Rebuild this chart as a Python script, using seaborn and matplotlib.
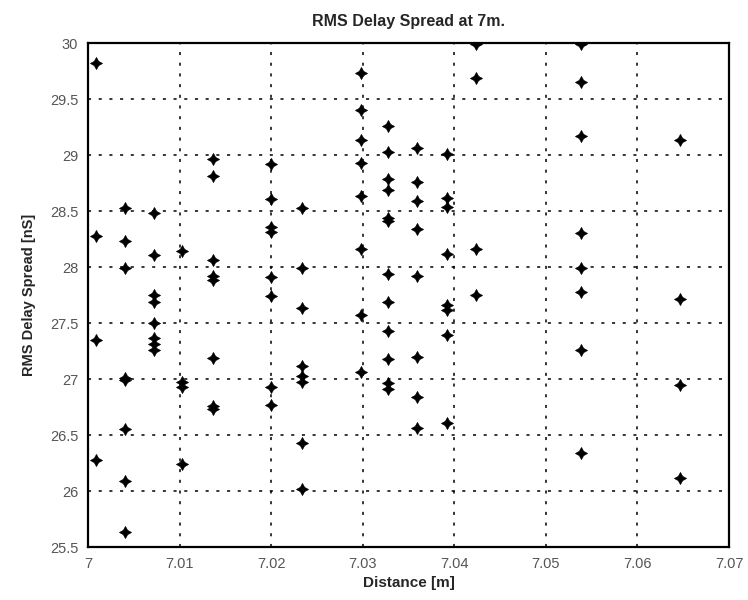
import numpy as np
import pandas as pd
import seaborn as sns
import matplotlib
matplotlib.use("Agg")
import matplotlib.pyplot as plt


# posiciones (m) de cada columna de medidas
distances = [7.0009, 7.0040, 7.0072, 7.0103, 7.0137, 7.0200, 7.0234,
             7.0298, 7.0328, 7.0359, 7.0392, 7.0424, 7.0538, 7.0646]

# RMS delay spread (nS) en cada columna
rms_c01 = [29.82, 28.28, 27.35, 26.28]
rms_c02 = [28.53, 28.23, 27.99, 27.01, 26.99, 26.55, 26.09, 25.63]
rms_c03 = [28.48, 28.11, 27.75, 27.69, 27.50, 27.37, 27.31, 27.26]
rms_c04 = [28.14, 26.97, 26.93, 26.24]
rms_c05 = [28.96, 28.81, 28.06, 27.92, 27.88, 27.19, 26.76, 26.73]
rms_c06 = [28.92, 28.61, 28.36, 28.31, 27.91, 27.74, 26.93, 26.77]
rms_c07 = [28.53, 27.99, 27.63, 27.12, 27.03, 26.97, 26.43, 26.02]
rms_c08 = [29.73, 29.40, 29.13, 28.93, 28.63, 28.16, 27.57, 27.06]
rms_c09 = [29.26, 29.03, 28.79, 28.69, 28.44, 28.41, 27.94, 27.69, 27.43, 27.18, 26.96, 26.91]
rms_c10 = [29.06, 28.76, 28.59, 28.34, 27.92, 27.20, 26.84, 26.56]
rms_c11 = [29.01, 28.62, 28.54, 28.12, 27.66, 27.62, 27.39, 26.61]
rms_c12 = [29.99, 29.69, 28.16, 27.75]
rms_c13 = [29.99, 29.65, 29.17, 28.30, 27.99, 27.78, 27.26, 26.34]
rms_c14 = [29.13, 27.71, 26.95, 26.12]

x_ticks = [7.00, 7.01, 7.02, 7.03, 7.04, 7.05, 7.06, 7.07]
x_tick_labels = ["7", "7.01", "7.02", "7.03", "7.04", "7.05", "7.06", "7.07"]
y_ticks = [25.5, 26, 26.5, 27, 27.5, 28, 28.5, 29, 29.5, 30]
y_tick_labels = ["25.5", "26", "26.5", "27", "27.5", "28", "28.5", "29", "29.5", "30"]


def build_frame() -> pd.DataFrame:
    """Junta las columnas en una tabla larga (distancia, delay)"""
    columns = [rms_c01, rms_c02, rms_c03, rms_c04, rms_c05, rms_c06, rms_c07,
               rms_c08, rms_c09, rms_c10, rms_c11, rms_c12, rms_c13, rms_c14]
    rows = []
    for d, vals in zip(distances, columns):
        for v in vals:
            rows.append((d, v))
    return pd.DataFrame(rows, columns=["distance", "rms"])


def main() -> None:
    sns.set_style("white")
    plt.rcParams["font.family"] = ["Liberation Sans", "DejaVu Sans"]

    df = build_frame()
    fig = plt.figure(figsize=(7.48, 6.0), dpi=100)
    ax = fig.add_axes([0.1176, 0.0883, 0.857, 0.84])

    # estrella de 4 puntas + punto central, parecido al '*' del escaneo
    sns.scatterplot(data=df, x="distance", y="rms", ax=ax, marker=(4, 1, 0),
                    s=75, color="black", edgecolor="black", linewidth=0.5,
                    legend=False, zorder=3)
    sns.scatterplot(data=df, x="distance", y="rms", ax=ax, marker="o",
                    s=14, color="black", linewidth=0, legend=False, zorder=4)

    ax.set_xlim(7.0, 7.07)
    ax.set_ylim(25.5, 30)
    ax.set_xticks(x_ticks)
    ax.set_xticklabels(x_tick_labels)
    ax.set_yticks(y_ticks)
    ax.set_yticklabels(y_tick_labels)
    ax.tick_params(direction="in", length=5, width=1.2, colors="black",
                   labelcolor="#555555", labelsize=10.5, pad=7)

    # rejilla punteada estilo matlab
    ax.grid(True, color="black", linestyle=(0, (2, 5)), linewidth=1.1)
    ax.set_axisbelow(True)
    for sp in ax.spines.values():
        sp.set_visible(True)
        sp.set_color("black")
        sp.set_linewidth(1.6)

    ax.set_title("RMS Delay Spread at 7m.", fontsize=11.5, fontweight="bold", pad=12)
    ax.set_xlabel("Distance [m]", fontsize=11, fontweight="bold", labelpad=4)
    ax.set_ylabel("RMS Delay Spread [nS]", fontsize=10.5, fontweight="bold", labelpad=10)

    fig.savefig("out.png", dpi=100, facecolor="white")


main()
